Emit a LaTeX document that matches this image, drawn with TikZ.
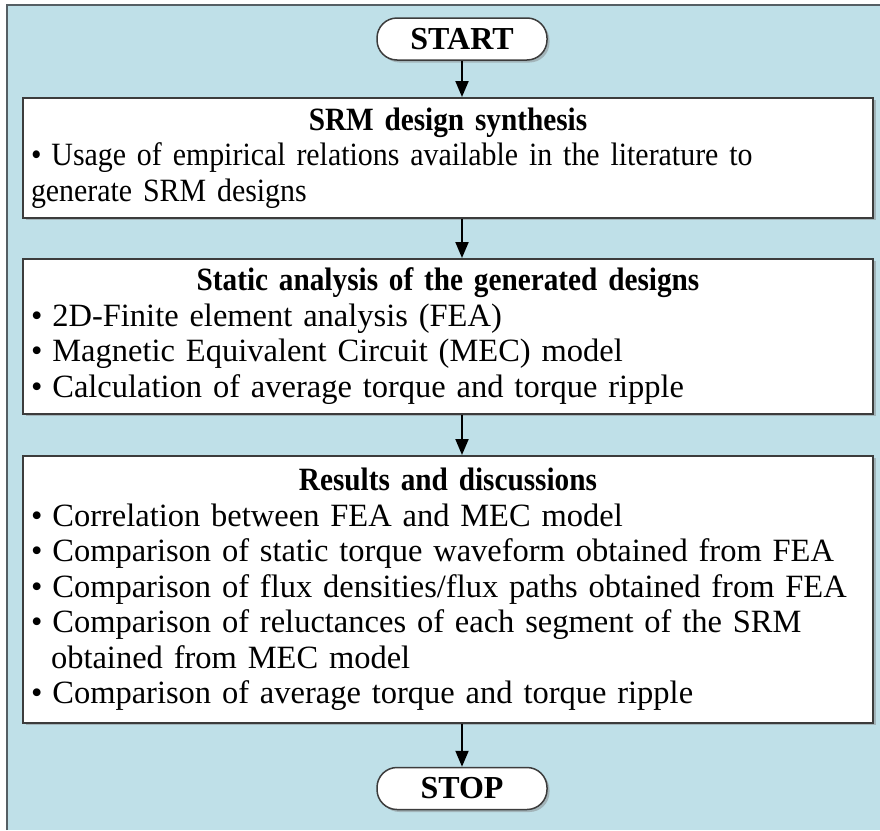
\documentclass[tikz,border=0pt]{standalone}
\usepackage{fontspec}
\setmainfont{Liberation Serif}
\newfontfamily\titlefont[FakeStretch=0.9]{Liberation Serif}
\newfontfamily\narrowfont[FakeStretch=0.92]{Liberation Serif}
\usetikzlibrary{arrows.meta,shadows}
\tikzset{>={Triangle[width=13pt,length=16pt]}}
\definecolor{bgblue}{RGB}{191,224,232}
\definecolor{edgegray}{RGB}{60,60,60}
\definecolor{framegray}{RGB}{85,95,100}
\newcommand{\bul}{\textbullet\hspace{10pt}}

\tikzset{
  boxshadow/.style={drop shadow={shadow xshift=2.5pt, shadow yshift=-2.5pt, opacity=0.45}},
  terminal/.style={draw=edgegray, line width=1.5pt, fill=white, rounded corners=20pt,
    minimum width=170pt, minimum height=42pt, inner sep=0pt,
    font=\fontsize{32}{35.5}\selectfont\bfseries, boxshadow},
  process/.style={draw=edgegray, line width=1.5pt, fill=white, anchor=north,
    text width=834pt, inner xsep=8pt, inner ysep=0pt, align=left,
    font=\fontsize{32.5}{35.5}\selectfont, boxshadow},
  flow/.style={->, line width=2pt}
}

\begin{document}
\begin{tikzpicture}[x=1pt, y=-1pt]
    \useasboundingbox (0,0) rectangle (880,830);
    \fill[bgblue] (7,5) rectangle (880,830);
    \draw[framegray, line width=1.5pt] (7,830) -- (7,5) -- (880,5);

    \node[terminal] (start) at (462,39) {START};
    \node[process, minimum height=120pt] (synth) at (448,97)
      {\makebox[834pt]{\titlefont\bfseries SRM design synthesis}\\
       \narrowfont\bul Usage of empirical relations available in the literature to\\
       \narrowfont generate SRM designs};
    \node[process, minimum height=155pt] (static) at (448,258)
      {\makebox[834pt]{\titlefont\bfseries Static analysis of the generated designs}\\
       \bul 2D-Finite element analysis (FEA)\\
       \bul Magnetic Equivalent Circuit (MEC) model\\
       \bul Calculation of average torque and torque ripple};
    \node[process, minimum height=267pt] (results) at (448,455)
      {\makebox[834pt]{\titlefont\bfseries Results and discussions}\\
       \bul Correlation between FEA and MEC model\\
       \bul Comparison of static torque waveform obtained from FEA\\
       \bul Comparison of flux densities/flux paths obtained from FEA\\
       \bul Comparison of reluctances of each segment of the SRM\\
       \hspace*{20pt}obtained from MEC model\\
       \bul Comparison of average torque and torque ripple};
    \node[terminal] (stop) at (462,788.5) {STOP};

    \draw[flow] (start.south) -- (start.south |- synth.north);
    \draw[flow] (synth.south -| start) -- (start |- static.north);
    \draw[flow] (static.south -| start) -- (start |- results.north);
    \draw[flow] (results.south -| stop) -- (stop.north);
\end{tikzpicture}
\end{document}
